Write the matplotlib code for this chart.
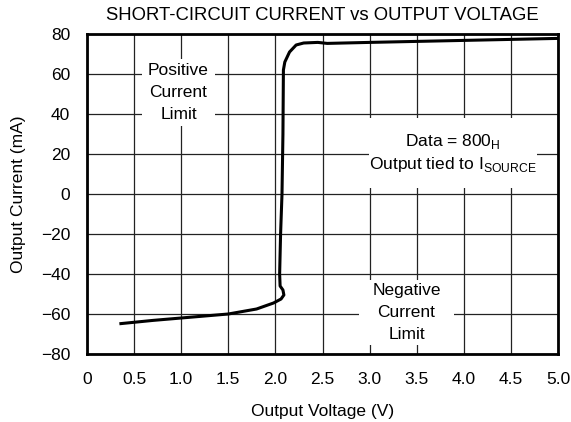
import matplotlib
matplotlib.use("Agg")
import matplotlib.pyplot as plt
from matplotlib.path import Path
import numpy as np

plt.rcParams['font.family'] = ['Liberation Sans', 'DejaVu Sans']

# curve
volts = [0.36, 0.7, 1.0, 1.5, 1.8, 1.98, 2.06, 2.09, 2.08, 2.05, 2.045, 2.055,
         2.07, 2.08, 2.085, 2.1, 2.15, 2.22, 2.3, 2.45, 2.55, 3.0, 3.5, 4.0, 4.5, 5.0]
current = [-64.8, -63.2, -62.0, -60.0, -57.5, -54.5, -52.5, -50.5, -48.0, -46.0,
           -40.0, -20.0, 0.0, 30.0, 62.0, 66.0, 71.0, 74.5, 75.5, 75.8, 75.3,
           75.8, 76.3, 76.8, 77.3, 77.8]

xticks = [0, 0.5, 1.0, 1.5, 2.0, 2.5, 3.0, 3.5, 4.0, 4.5, 5.0]
xtick_labels = ["0", "0.5", "1.0", "1.5", "2.0", "2.5", "3.0", "3.5", "4.0", "4.5", "5.0"]
yticks = [-80, -60, -40, -20, 0, 20, 40, 60, 80]
ytick_labels = ["\u221280", "\u221260", "\u221240", "\u221220", "0", "20", "40", "60", "80"]


def white_box(padx, pady):
    # rectangle box with separate x / y padding (in units of font size)
    def style(x0, y0, width, height, mutation_size):
        dx, dy = padx * mutation_size, pady * mutation_size
        xa, ya = x0 - dx, y0 - dy
        xb, yb = x0 + width + dx, y0 + height + dy
        return Path([(xa, ya), (xb, ya), (xb, yb), (xa, yb), (xa, ya)], closed=True)
    return dict(boxstyle=style, fc="white", ec="none")


fig = plt.figure(figsize=(5.71, 4.22), dpi=100)
ax = fig.add_axes([87 / 571, 1 - 354 / 422, (558 - 87) / 571, (354 - 34) / 422])

ax.set_xlim(0, 5.0)
ax.set_ylim(-80, 80)
ax.set_xticks(xticks)
ax.set_xticklabels(xtick_labels)
ax.set_yticks(yticks)
ax.set_yticklabels(ytick_labels)
ax.tick_params(length=0, labelsize=12.5)
ax.tick_params(axis="x", pad=13)
ax.tick_params(axis="y", pad=12)
ax.grid(True, color="#222222", linewidth=0.9)
ax.set_axisbelow(True)
for s in ax.spines.values():
    s.set_linewidth(2.0)

ax.plot(volts, current, color="black", linewidth=2.2, zorder=3)

ax.text(0.971, 50.75, "Positive\nCurrent\nLimit", ha="center", va="center",
        fontsize=12.5, linespacing=1.6, bbox=white_box(0.37, 0.22), zorder=4)
ax.text(3.886, 20.5, "Data = 800$_\\mathregular{H}$\nOutput tied to I$_\\mathregular{SOURCE}$",
        ha="center", va="center", fontsize=12.5, linespacing=1.25,
        bbox=white_box(0.02, 0.8), zorder=4)
ax.text(3.392, -59.25, "Negative\nCurrent\nLimit", ha="center", va="center",
        fontsize=12.5, linespacing=1.55, bbox=white_box(0.75, 0.17), zorder=4)

ax.set_title("SHORT-CIRCUIT CURRENT vs OUTPUT VOLTAGE", fontsize=13.3, pad=10)
ax.set_xlabel("Output Voltage (V)", fontsize=12.5, labelpad=12)
ax.set_ylabel("Output Current (mA)", fontsize=12.5, labelpad=11)

fig.savefig("out.png", dpi=100)
